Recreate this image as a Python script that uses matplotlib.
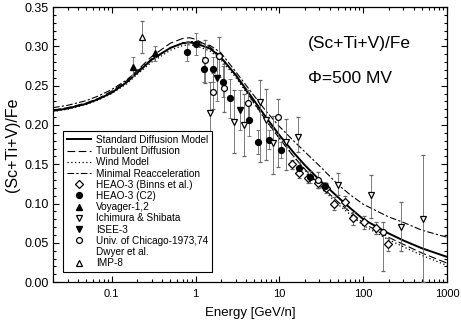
import matplotlib
matplotlib.use("Agg")
import matplotlib.pyplot as plt
from matplotlib.lines import Line2D
from matplotlib.ticker import MultipleLocator, FixedLocator, LogLocator, NullFormatter, FormatStrFormatter
import numpy as np

plt.rcParams['font.family'] = ['Liberation Sans', 'DejaVu Sans']

# ---- model curves ----
E_model = [0.02, 0.03, 0.05, 0.07, 0.1, 0.15, 0.2, 0.3, 0.5, 0.7, 0.85, 1.0, 1.5, 2, 3, 5, 7,
           10, 15, 20, 30, 50, 70, 100, 200, 300, 500, 1000]
standard = [0.218, 0.221, 0.227, 0.233, 0.241, 0.254, 0.266, 0.283, 0.298, 0.304, 0.305, 0.304,
            0.297, 0.286, 0.264, 0.231, 0.209, 0.187, 0.164, 0.149, 0.130, 0.108, 0.094, 0.080,
            0.062, 0.053, 0.043, 0.032]
turbulent = [0.219, 0.222, 0.228, 0.234, 0.243, 0.256, 0.269, 0.287, 0.304, 0.310, 0.311, 0.309,
             0.299, 0.287, 0.263, 0.228, 0.205, 0.183, 0.159, 0.144, 0.124, 0.102, 0.089, 0.075,
             0.057, 0.048, 0.037, 0.024]
wind = [0.217, 0.220, 0.226, 0.232, 0.240, 0.252, 0.264, 0.280, 0.295, 0.301, 0.302, 0.301,
        0.294, 0.283, 0.261, 0.227, 0.205, 0.183, 0.159, 0.143, 0.122, 0.099, 0.086, 0.072,
        0.054, 0.045, 0.034, 0.021]
min_reacc = [0.222, 0.225, 0.231, 0.237, 0.245, 0.257, 0.268, 0.284, 0.298, 0.304, 0.306, 0.306,
             0.301, 0.292, 0.268, 0.237, 0.217, 0.198, 0.179, 0.166, 0.148, 0.124, 0.111, 0.099,
             0.083, 0.076, 0.066, 0.057]

# ---- data sets ----
heao_binns_E = [14, 17, 22, 29, 36, 45, 60, 76, 103, 140, 195]
heao_binns_V = [0.150, 0.139, 0.132, 0.126, 0.120, 0.100, 0.102, 0.081, 0.076, 0.069, 0.048]
heao_binns_err = [0.006, 0.006, 0.006, 0.006, 0.006, 0.008, 0.008, 0.008, 0.008, 0.008, 0.008]

heao_c2_E = [0.8, 1.0, 1.25, 1.6, 2.1, 2.6, 4.3, 5.5, 7.5, 10.5, 17, 23, 35]
heao_c2_V = [0.293, 0.303, 0.271, 0.271, 0.255, 0.234, 0.206, 0.178, 0.181, 0.168, 0.145, 0.134, 0.122]
heao_c2_err = [0.012, 0.014, 0.016, 0.016, 0.020, 0.025, 0.020, 0.015, 0.012, 0.010, 0.008, 0.008, 0.006]

voyager_E = [0.18, 0.33]
voyager_V = [0.274, 0.291]
voyager_err = [0.012, 0.009]

ichimura_E = [1.5, 2.9, 3.8, 5.9, 7.0, 8.5, 12, 16.7, 50, 123, 285, 520]
ichimura_V = [0.215, 0.204, 0.200, 0.229, 0.206, 0.177, 0.178, 0.185, 0.123, 0.111, 0.070, 0.080]
ichimura_lo = [0.040, 0.040, 0.040, 0.076, 0.050, 0.040, 0.035, 0.020, 0.012, 0.030, 0.030, 0.080]
ichimura_hi = [0.040, 0.040, 0.040, 0.028, 0.040, 0.035, 0.030, 0.025, 0.016, 0.025, 0.032, 0.082]

isee_E = [1.8, 3.4]
isee_V = [0.260, 0.219]
isee_err = [0.030, 0.025]

chicago_E = [1.28, 1.6, 1.89, 2.17, 4.2, 9.6, 29]
chicago_V = [0.283, 0.242, 0.288, 0.247, 0.228, 0.210, 0.130]
chicago_lo = [0.030, 0.022, 0.027, 0.030, 0.022, 0.064, 0.010]
chicago_hi = [0.025, 0.024, 0.024, 0.030, 0.016, 0.023, 0.010]

dwyer_E = [171]
dwyer_V = [0.064]
dwyer_lo = [0.050]
dwyer_hi = [0.012]

imp8_E = [0.23]
imp8_V = [0.312]
imp8_lo = [0.021]
imp8_hi = [0.020]

fig = plt.figure(figsize=(4.61, 3.22), dpi=100)
ax = fig.add_axes([0.115, 0.124, 0.855, 0.854])

ax.plot(E_model, standard, '-', color='black', lw=1.4, zorder=3)
ax.plot(E_model, turbulent, color='black', lw=0.8, dashes=(7, 3), zorder=3)
ax.plot(E_model, wind, color='black', lw=0.9, dashes=(1, 2), zorder=3)
ax.plot(E_model, min_reacc, color='black', lw=0.8, dashes=(6, 2, 2, 2), zorder=3)

eb = dict(ls='none', ecolor='#666666', elinewidth=0.6, capsize=1.6, capthick=0.6, zorder=4)
ms = 4.2
ax.errorbar(heao_binns_E, heao_binns_V, yerr=heao_binns_err, marker='D', ms=ms - 0.5, mfc='white',
            mec='black', mew=0.9, **eb)
ax.errorbar(heao_c2_E, heao_c2_V, yerr=heao_c2_err, marker='o', ms=ms, mfc='black', mec='black', **eb)
ax.errorbar(voyager_E, voyager_V, yerr=voyager_err, marker='^', ms=ms, mfc='black', mec='black', **eb)
ax.errorbar(ichimura_E, ichimura_V, yerr=[ichimura_lo, ichimura_hi], marker='v', ms=ms, mfc='white',
            mec='black', mew=0.9, **eb)
ax.errorbar(isee_E, isee_V, yerr=isee_err, marker='v', ms=ms, mfc='black', mec='black', **eb)
ax.errorbar(chicago_E, chicago_V, yerr=[chicago_lo, chicago_hi], marker='o', ms=ms, mfc='white',
            mec='black', mew=0.9, **eb)
ax.errorbar(dwyer_E, dwyer_V, yerr=[dwyer_lo, dwyer_hi], marker='o', ms=ms, mfc='white',
            mec='black', mew=0.9, **eb)
ax.errorbar(imp8_E, imp8_V, yerr=[imp8_lo, imp8_hi], marker='^', ms=ms, mfc='white',
            mec='black', mew=0.9, **eb)

ax.set_xscale('log')
ax.set_xlim(0.02, 1000)
ax.set_ylim(0.0, 0.35)
ax.yaxis.set_major_locator(MultipleLocator(0.05))
ax.yaxis.set_minor_locator(MultipleLocator(0.01))
ax.yaxis.set_major_formatter(FormatStrFormatter('%.2f'))
ax.xaxis.set_major_locator(FixedLocator([0.1, 1, 10, 100, 1000]))
ax.set_xticklabels(['0.1', '1', '10', '100', '1000'])
ax.xaxis.set_minor_locator(LogLocator(base=10, subs=np.arange(2, 10), numticks=20))
ax.xaxis.set_minor_formatter(NullFormatter())
ax.tick_params(which='both', direction='in', top=True, right=True, width=0.8)
ax.tick_params(which='major', length=4)
ax.tick_params(which='minor', length=2.5)
ax.tick_params(axis='x', labelsize=8, pad=5)
ax.tick_params(axis='y', labelsize=9, pad=3)
for s in ax.spines.values():
    s.set_linewidth(0.9)

ax.set_xlabel('Energy [GeV/n]', fontsize=9.5, labelpad=6)
ax.set_ylabel('(Sc+Ti+V)/Fe', fontsize=11.5, labelpad=3)

ax.text(0.646, 0.869, '(Sc+Ti+V)/Fe', transform=ax.transAxes, fontsize=12.5, va='center')
ax.text(0.646, 0.742, '\u03a6=500 MV', transform=ax.transAxes, fontsize=12.5, va='center')

handles = [
    Line2D([], [], color='black', lw=1.4),
    Line2D([], [], color='black', lw=0.8, dashes=(7, 3)),
    Line2D([], [], color='black', lw=0.9, dashes=(1, 2)),
    Line2D([], [], color='black', lw=0.8, dashes=(6, 2, 2, 2)),
    Line2D([], [], ls='none', marker='D', ms=ms - 0.5, mfc='white', mec='black', mew=0.9),
    Line2D([], [], ls='none', marker='o', ms=ms, mfc='black', mec='black'),
    Line2D([], [], ls='none', marker='^', ms=ms, mfc='black', mec='black'),
    Line2D([], [], ls='none', marker='v', ms=ms, mfc='white', mec='black', mew=0.9),
    Line2D([], [], ls='none', marker='v', ms=ms, mfc='black', mec='black'),
    Line2D([], [], ls='none', marker='o', ms=ms, mfc='white', mec='black', mew=0.9),
    Line2D([], [], ls='none'),
    Line2D([], [], ls='none', marker='^', ms=ms, mfc='white', mec='black', mew=0.9),
]
labels = ['Standard Diffusion Model', 'Turbulent Diffusion', 'Wind Model', 'Minimal Reacceleration',
          'HEAO-3 (Binns et al.)', 'HEAO-3 (C2)', 'Voyager-1,2', 'Ichimura & Shibata', 'ISEE-3',
          'Univ. of Chicago-1973,74', 'Dwyer et al.', 'IMP-8']
leg = ax.legend(handles, labels, loc='lower left', bbox_to_anchor=(0.025, 0.036), borderaxespad=0,
                fontsize=7.2, frameon=True, fancybox=False, edgecolor='black', framealpha=1,
                handlelength=2.4, handletextpad=0.5, labelspacing=0.12, borderpad=0.4)
leg.get_frame().set_linewidth(0.8)

fig.savefig('out.png', dpi=100)
